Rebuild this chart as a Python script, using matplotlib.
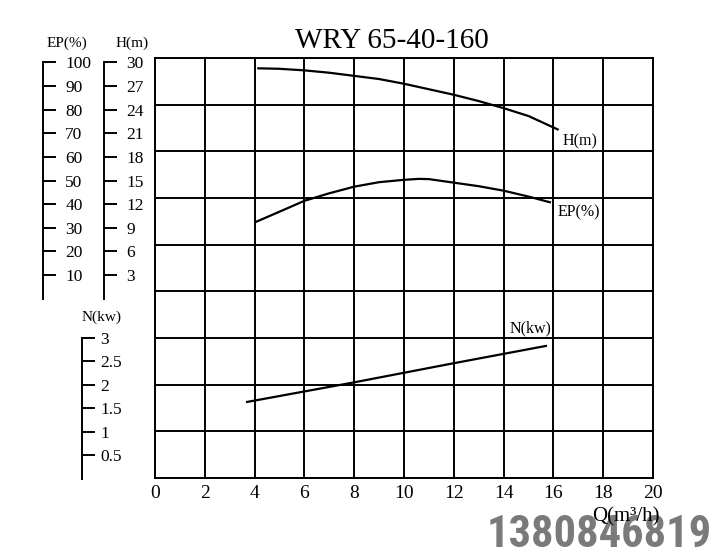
"""Pump performance curve sheet for WRY 65-40-160."""

import matplotlib

matplotlib.use("Agg")
import matplotlib.pyplot as plt
from matplotlib import font_manager

plt.rcParams["font.family"] = ["Liberation Serif", "DejaVu Serif"]

# curve readings (flow Q in m3/h)
q_head = [4.15, 5, 6, 7, 8, 9, 10, 11, 12, 13, 14, 15, 16.17]
head_m = [29.26, 29.2, 29.0, 28.7, 28.3, 27.9, 27.3, 26.6, 25.9, 25.1, 24.2, 23.2, 21.5]

q_eff = [4.08, 5, 6, 7, 8, 9, 10, 10.6, 11, 12, 13, 14, 15, 15.86]
eff_pct = [32.6, 36.8, 41.4, 44.6, 47.4, 49.3, 50.3, 50.7, 50.6, 49.1, 47.6, 45.7, 43.2, 40.8]

q_pow = [3.7, 8, 12, 15.7]
power_kw = [1.63, 2.05, 2.46, 2.83]

x_ticks = list(range(0, 21, 2))
ep_ticks = [10, 20, 30, 40, 50, 60, 70, 80, 90, 100]
h_ticks = [3, 6, 9, 12, 15, 18, 21, 24, 27, 30]
n_ticks = [0.5, 1, 1.5, 2, 2.5, 3]
n_tick_labels = ["0.5", "1", "1.5", "2", "2.5", "3"]

W, H = 710, 550
fig = plt.figure(figsize=(W / 100, H / 100), dpi=100)


def box(x0, y0, x1, y1):
    # pixel box (top-left origin) -> figure fraction rect
    return [x0 / W, 1 - y1 / H, (x1 - x0) / W, (y1 - y0) / H]


LW = 1.4

# main grid, y measured in rows (1 row = 1 kW)
ax = fig.add_axes(box(155, 58, 653, 478))
ax.set_xlim(0, 20)
ax.set_ylim(0, 9)
ax.set_xticks(x_ticks)
ax.set_xticklabels([str(v) for v in x_ticks], fontsize=14)
ax.set_yticks(range(10))
ax.set_yticklabels([])
ax.tick_params(length=0, pad=5)
ax.grid(True, color="black", linewidth=LW)
for sp in ax.spines.values():
    sp.set_linewidth(LW)
ax.plot(q_pow, power_kw, color="black", linewidth=1.6)
ax.text(15.1, 3.2, "N(kw)", fontsize=11.5, ha="center", va="center")

# head axis overlay (0 m at y=298.6 px, 30 m at y=62.5 px)
ax_h = ax.twinx()
ph = 7.87
ax_h.set_ylim(-(478 - 298.6) / ph, 30 + (62.5 - 58) / ph)
ax_h.plot(q_head, head_m, color="black", linewidth=1.6)
ax_h.text(16.35, 21.0, "H(m)", fontsize=11.5, ha="left", va="top")
ax_h.axis("off")

# efficiency axis overlay
ax_e = ax.twinx()
pe = 2.36
ax_e.set_ylim(-(478 - 298.6) / pe, 100 + (62.5 - 58) / pe)
ax_e.plot(q_eff, eff_pct, color="black", linewidth=1.6)
ax_e.text(16.15, 40.0, "EP(%)", fontsize=11.5, ha="left", va="top")
ax_e.axis("off")


def side_scale(x_spine, y_top, y_bottom, lim, ticks, labels, pad):
    s = fig.add_axes(box(x_spine - 5, y_top, x_spine, y_bottom))
    s.set_ylim(*lim)
    s.set_xticks([])
    for name in ("left", "top", "bottom"):
        s.spines[name].set_visible(False)
    s.spines["right"].set_linewidth(LW)
    s.yaxis.tick_right()
    s.set_yticks(ticks)
    s.set_yticklabels(labels, fontsize=12.5)
    s.tick_params(axis="y", direction="out", length=9, width=LW, pad=pad)
    s.patch.set_visible(False)
    return s


side_scale(43, 62.5, 298.6, (0, 100), ep_ticks, [str(v) for v in ep_ticks], 7)
side_scale(104, 62.5, 298.6, (0, 30), h_ticks, [str(v) for v in h_ticks], 7)
side_scale(82, 338, 478.5, (0, 3), n_ticks, n_tick_labels, 4)

fig.text(67 / W, 1 - 43 / H, "EP(%)", fontsize=11, ha="center", va="center")
fig.text(132 / W, 1 - 43 / H, "H(m)", fontsize=11, ha="center", va="center")
fig.text(102 / W, 1 - 317 / H, "N(kw)", fontsize=11, ha="center", va="center")

fig.text(392 / W, 1 - 41 / H, "WRY 65-40-160", fontsize=21, ha="center", va="center")

# watermark: prefer a narrow sans if one is installed
names = {f.name for f in font_manager.fontManager.ttflist}
narrow = [n for n in ("Liberation Sans Narrow", "Roboto Condensed", "DejaVu Sans Condensed",
                      "Open Sans Condensed") if n in names]
if narrow:
    wm_family, wm_size = [narrow[0], "DejaVu Sans"], 32
else:
    wm_family, wm_size = ["DejaVu Sans"], 27
fig.text(487 / W, 1 - 547 / H, "13808468195", fontsize=wm_size, fontweight="bold",
         fontstretch="condensed", color="#7a7a7a", ha="left", va="baseline", zorder=1,
         family=wm_family)
fig.text(626 / W, 1 - 517 / H, "Q(m\u00b3/h)", fontsize=15, ha="center", va="center", zorder=5)

fig.savefig("out.png", dpi=100)
